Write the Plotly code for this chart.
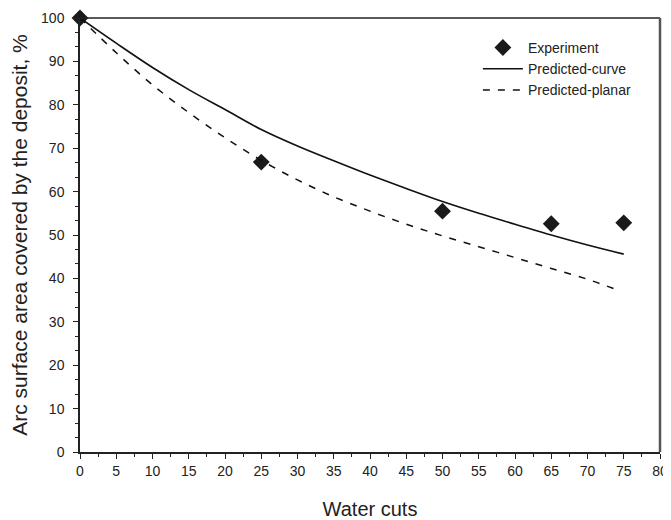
import plotly.graph_objects as go

# Experimental data
exp_x = [0, 25, 50, 65, 75]
exp_y = [100, 66.8, 55.5, 52.6, 52.8]

# Predicted-curve (solid)
curve_x = [0, 5, 10, 15, 20, 25, 30, 35, 40, 45, 50, 55, 60, 65, 70, 75]
curve_y = [100, 94.2, 88.6, 83.5, 78.9, 74.3, 70.5, 67.1, 63.8, 60.7, 57.7, 55.0, 52.5, 50.0, 47.7, 45.6]

# Predicted-planar (dashed)
planar_x = [0, 5, 10, 15, 20, 25, 30, 35, 40, 45, 50, 55, 60, 65, 70, 74]
planar_y = [100, 92.0, 84.6, 78.2, 72.4, 67.2, 62.7, 58.8, 55.5, 52.5, 49.8, 47.3, 44.8, 42.3, 39.8, 37.4]

x_ticks = list(range(0, 81, 5))
y_ticks = list(range(0, 101, 10))

font_family = "Liberation Sans, Arial, sans-serif"

fig = go.Figure()
fig.add_trace(go.Scatter(
    x=exp_x, y=exp_y, mode="markers", name="Experiment",
    marker=dict(symbol="diamond", size=13, color="#1a1a1a"),
    cliponaxis=False,
))
fig.add_trace(go.Scatter(
    x=curve_x, y=curve_y, mode="lines", name="Predicted-curve",
    line=dict(color="#111111", width=1.6, shape="spline"),
))
fig.add_trace(go.Scatter(
    x=planar_x, y=planar_y, mode="lines", name="Predicted-planar",
    line=dict(color="#111111", width=1.5, dash="7px,8px", shape="spline"),
))

# The page body has an 8px margin, so the figure is sized to fit the visible window.
fig.update_layout(
    width=663, height=512,
    margin=dict(l=72, r=11, t=10, b=68, autoexpand=False),
    paper_bgcolor="white", plot_bgcolor="white",
    font=dict(family=font_family, size=14, color="#222222"),
    showlegend=True,
    legend=dict(
        x=0.686, y=0.968, xanchor="left", yanchor="top",
        bgcolor="rgba(0,0,0,0)", borderwidth=0,
        font=dict(size=14, color="#222222"),
        itemwidth=40, tracegroupgap=0,
    ),
    xaxis=dict(
        range=[0, 80], tickvals=x_ticks, ticktext=[str(v) for v in x_ticks],
        showgrid=False, zeroline=False, automargin=False,
        showline=True, linecolor="#222222", linewidth=1.5, mirror=False,
        ticks="outside", ticklen=5, tickwidth=1.2, tickcolor="#222222",
        minor=dict(dtick=2.5, tick0=0, ticks="outside", ticklen=3, tickcolor="#222222", tickwidth=1),
        title=dict(text="Water cuts", font=dict(size=20), standoff=24),
        tickfont=dict(size=14),
    ),
    yaxis=dict(
        range=[0, 100], tickvals=y_ticks, ticktext=[str(v) for v in y_ticks],
        showgrid=False, zeroline=False, automargin=False,
        showline=True, linecolor="#222222", linewidth=1.5, mirror=False,
        ticks="outside", ticklen=5, tickwidth=1.2, tickcolor="#222222",
        ticklabelstandoff=6,
        minor=dict(dtick=10/3, tick0=0, ticks="outside", ticklen=3, tickcolor="#222222", tickwidth=1),
        title=dict(text="Arc surface area covered by the deposit, %", font=dict(size=21), standoff=10),
        tickfont=dict(size=14),
    ),
    shapes=[
        dict(type="line", xref="paper", yref="paper", x0=0, x1=1, y0=1, y1=1,
             line=dict(color="#222222", width=1.5)),
        dict(type="line", xref="paper", yref="paper", x0=1, x1=1, y0=0, y1=1,
             line=dict(color="#555555", width=2.5)),
    ],
)

fig.write_html("out.html")
